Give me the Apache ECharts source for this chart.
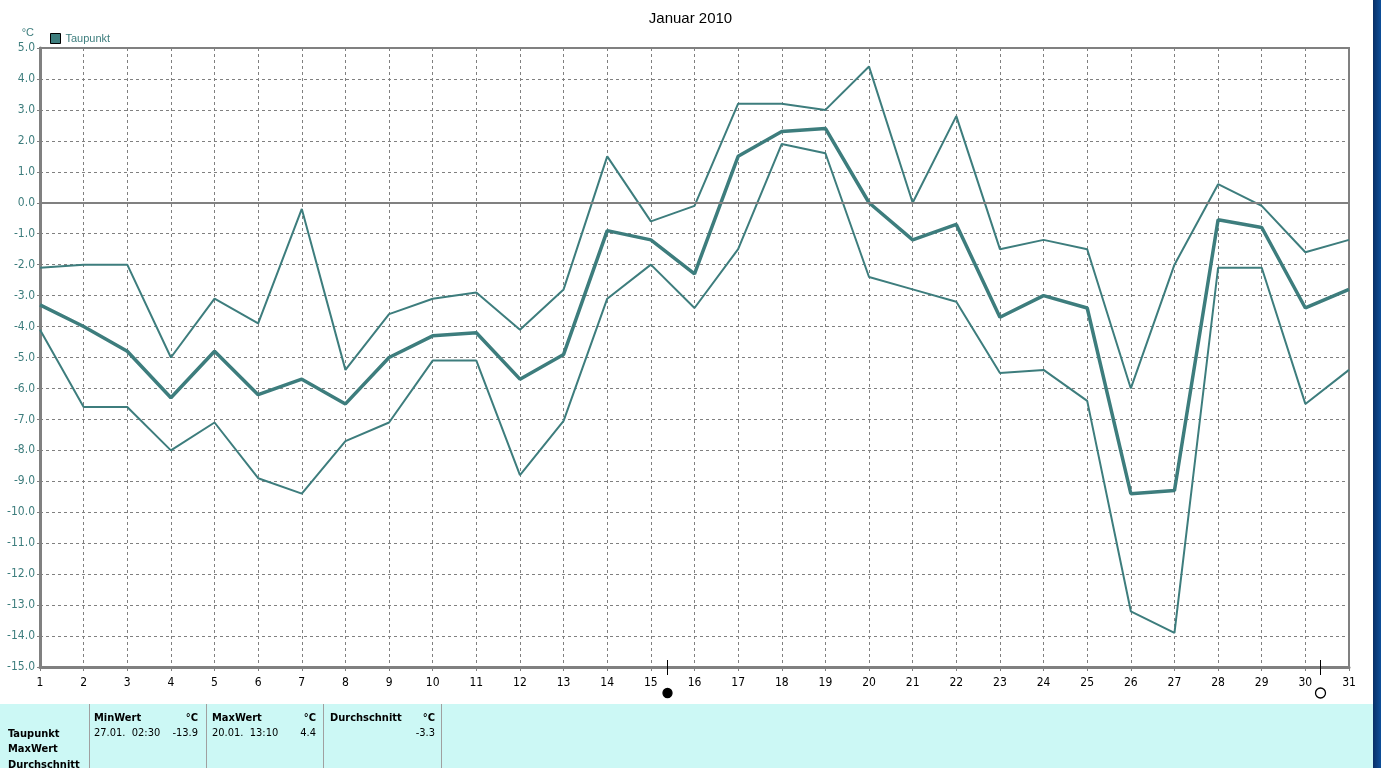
<!DOCTYPE html>
<html><head><meta charset="utf-8">
<script src="https://cdn.jsdelivr.net/npm/echarts@6/dist/echarts.min.js"></script>
<style>html,body{margin:0;padding:0;background:#fff;}#c{width:1381px;height:768px;}</style>
</head><body><div id="c"></div>
<script>
const days = [1,2,3,4,5,6,7,8,9,10,11,12,13,14,15,16,17,18,19,20,21,22,23,24,25,26,27,28,29,30,31];
const taupunktMax = [-2.1,-2.0,-2.0,-5.0,-3.1,-3.9,-0.2,-5.4,-3.6,-3.1,-2.9,-4.1,-2.8,1.5,-0.6,-0.1,3.2,3.2,3.0,4.4,0.0,2.8,-1.5,-1.2,-1.5,-6.0,-2.0,0.6,-0.1,-1.6,-1.2];
const taupunktAvg = [-3.3,-4.0,-4.8,-6.3,-4.8,-6.2,-5.7,-6.5,-5.0,-4.3,-4.2,-5.7,-4.9,-0.9,-1.2,-2.3,1.5,2.3,2.4,0.0,-1.2,-0.7,-3.7,-3.0,-3.4,-9.4,-9.3,-0.55,-0.8,-3.4,-2.8];
const taupunktMin = [-4.1,-6.6,-6.6,-8.0,-7.1,-8.9,-9.4,-7.7,-7.1,-5.1,-5.1,-8.8,-7.05,-3.1,-2.0,-3.4,-1.5,1.9,1.6,-2.4,-2.8,-3.2,-5.5,-5.4,-6.4,-13.2,-13.9,-2.1,-2.1,-6.5,-5.4];
const moonNew = 15.37;
const moonFull = 30.34;
const tableHeaders = ['MinWert','°C','MaxWert','°C','Durchschnitt','°C'];
const rowLabels = ['Taupunkt','MaxWert','Durchschnitt'];
const statValues = ['27.01.  02:30','-13.9','20.01.  13:10','4.4','','-3.3'];

const teal = '#3d7d7d';
const grey = '#808080';
const narrow = '"Liberation Sans Narrow","Arial Narrow","DejaVu Sans Condensed",sans-serif';
const chart = echarts.init(document.getElementById('c'));
const pts = a => a.map((v,i)=>[days[i], v]);

chart.setOption({
  animation:false,
  title:{text:'Januar 2010',left:'center',top:6,textStyle:{fontSize:15,fontWeight:'normal',color:'#000',fontFamily:'Liberation Sans, Arial, sans-serif'}},
  legend:{data:['Taupunkt'],left:50,top:33,padding:0,icon:'rect',itemWidth:10,itemHeight:10,itemGap:4,
    textStyle:{color:teal,fontSize:11,fontFamily:'Liberation Sans, Arial, sans-serif'},
    itemStyle:{borderColor:'#000',borderWidth:1,color:teal}},
  grid:{left:40,right:32,top:48,bottom:101,show:true,borderColor:grey,borderWidth:2,backgroundColor:'#fff'},
  xAxis:{type:'value',min:1,max:31,interval:1,
    axisLine:{onZero:false,lineStyle:{color:grey,width:3}},
    axisTick:{show:true,length:4,lineStyle:{color:grey}},
    axisLabel:{color:'#000',fontSize:12,margin:10,fontFamily:narrow},
    splitLine:{show:true,lineStyle:{color:grey,type:[3,3],width:1}}},
  yAxis:{type:'value',min:-15,max:5,interval:1,name:'°C',nameLocation:'end',nameGap:10,
    nameTextStyle:{color:teal,fontSize:11,align:'right',padding:[0,6,0,0]},
    axisLine:{show:true,lineStyle:{color:grey,width:3}},
    axisTick:{show:true,length:3,lineStyle:{color:grey}},
    axisLabel:{color:teal,fontSize:12,margin:5,fontFamily:narrow,formatter:v=>v.toFixed(1)},
    splitLine:{show:true,lineStyle:{color:grey,type:[3,3],width:1}}},
  series:[
    {name:'Taupunkt Max',type:'line',data:pts(taupunktMax),symbol:'none',lineStyle:{color:teal,width:2},
      markLine:{silent:true,symbol:'none',label:{show:false},lineStyle:{color:grey,width:2,type:'solid'},data:[{yAxis:0}]},z:3},
    {name:'Taupunkt',type:'line',data:pts(taupunktAvg),symbol:'none',lineStyle:{color:teal,width:3.5},itemStyle:{color:teal},z:4},
    {name:'Taupunkt Min',type:'line',data:pts(taupunktMin),symbol:'none',lineStyle:{color:teal,width:2},z:3}
  ]
});

function addGraphics(){
  const g = [];
  g.push({type:'rect',shape:{x:0,y:704,width:1373,height:64},style:{fill:'#ccf8f5'},z:1});
  g.push({type:'rect',shape:{x:1373,y:0,width:8,height:768},style:{fill:new echarts.graphic.LinearGradient(0,0,1,0,[{offset:0,color:'#082f66'},{offset:1,color:'#0d4f9a'}])},z:1});
  const yAx = chart.convertToPixel({gridIndex:0},[1,-15])[1];
  [[moonNew,true],[moonFull,false]].forEach(([d,filled])=>{
    const x = Math.round(chart.convertToPixel({gridIndex:0},[d,-15])[0]) + 0.5;
    g.push({type:'line',shape:{x1:x,y1:yAx-7,x2:x,y2:yAx+8},style:{stroke:'#000',lineWidth:1},z:10});
    g.push({type:'circle',shape:{cx:x,cy:yAx+26,r:filled?4.5:5},style:{fill:filled?'#000':'none',stroke:'#000',lineWidth:1.3},z:10});
  });
  [89,206,323,441].forEach(x=>g.push({type:'line',shape:{x1:x+0.5,y1:704,x2:x+0.5,y2:768},style:{stroke:'#a0a0a0',lineWidth:1},z:2}));
  const bold = {fontFamily:narrow,fontSize:11,fontWeight:'bold',fill:'#000'};
  const norm = {fontFamily:narrow,fontSize:11,fill:'#000'};
  const colX = [[94,198],[212,316],[330,435]];
  for(let i=0;i<3;i++){
    g.push({type:'text',style:Object.assign({text:tableHeaders[2*i],x:colX[i][0],y:718,verticalAlign:'middle'},bold),z:3});
    g.push({type:'text',style:Object.assign({text:tableHeaders[2*i+1],x:colX[i][1],y:718,align:'right',verticalAlign:'middle'},bold),z:3});
    g.push({type:'text',style:Object.assign({text:statValues[2*i],x:colX[i][0],y:733,verticalAlign:'middle'},norm),z:3});
    g.push({type:'text',style:Object.assign({text:statValues[2*i+1],x:colX[i][1],y:733,align:'right',verticalAlign:'middle'},norm),z:3});
  }
  rowLabels.forEach((t,i)=>g.push({type:'text',style:Object.assign({text:t,x:8,y:734+i*15.5,verticalAlign:'middle'},bold),z:3}));
  chart.setOption({graphic:g});
}
addGraphics();
</script></body></html>
